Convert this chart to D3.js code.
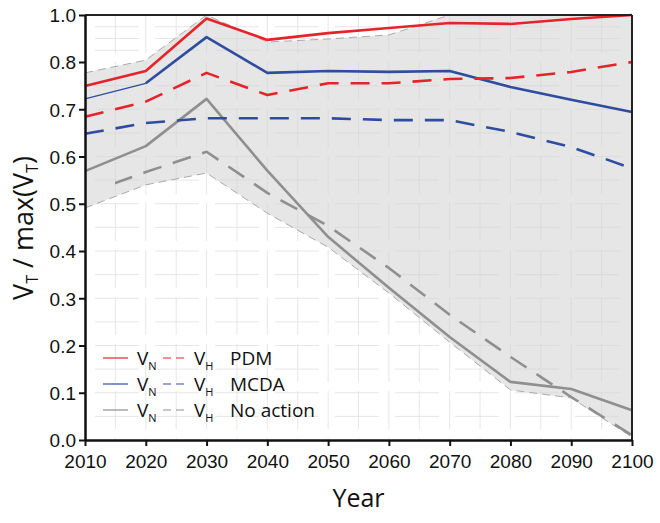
<!DOCTYPE html>
<html><head><meta charset="utf-8">
<script src="https://cdn.jsdelivr.net/npm/d3@7"></script>
<style>body{margin:0;background:#fff}svg{display:block}</style>
</head><body>
<svg id="c" width="660" height="523"></svg>
<script>
const years = [2010,2020,2030,2040,2050,2060,2070,2080,2090,2100];
const yTicks = [0.0,0.1,0.2,0.3,0.4,0.5,0.6,0.7,0.8,1.0];
const pdmVN   = [0.749,0.781,0.985,0.894,0.923,0.945,0.966,0.962,0.983,1.0];
const pdmVH   = [0.684,0.716,0.777,0.730,0.755,0.755,0.764,0.766,0.779,0.800];
const mcdaVN  = [0.722,0.755,0.906,0.777,0.781,0.779,0.781,0.747,0.720,0.694];
const mcdaVH  = [0.648,0.671,0.681,0.681,0.681,0.677,0.677,0.652,0.620,0.575];
const noVN    = [0.569,0.622,0.722,0.570,0.430,0.322,0.218,0.123,0.108,0.063];
const noVH    = [0.521,0.567,0.610,0.523,0.453,0.364,0.265,0.176,0.091,0.010];
const envUpper= [0.777,0.808,1.0,0.885,0.898,0.915,1.0,1.0,1.0,1.0];
const envLower= [0.491,0.540,0.565,0.480,0.408,0.311,0.207,0.106,0.089,0.006];
const legendRows = [
  {name:"PDM", color:"#e52329"},
  {name:"MCDA", color:"#2e4d9f"},
  {name:"No action", color:"#8f8f8f"}
];

const svg = d3.select("#c");
const L=85, R=632, T=15, B=440;
const x = d3.scaleLinear().domain([2010,2100]).range([L,R]);
const y = d3.scaleLinear().domain([0,0.8,1.0]).range([B,62,T]);

// envelope
const area = d3.area().x((d,i)=>x(years[i])).y0((d,i)=>y(envLower[i])).y1((d,i)=>y(envUpper[i]));
svg.append("path").datum(years).attr("d",area).attr("fill","#e6e6e6");

// faint grid
const g = svg.append("g").attr("stroke","#d4d4d4").attr("stroke-width",0.8).attr("opacity",0.7);
d3.range(2015,2100,5).forEach(v=>{
  g.append("line").attr("x1",x(v)).attr("x2",x(v)).attr("y1",T).attr("y2",B).attr("stroke-dasharray","38,9");
});
d3.range(0.05,0.8,0.05).concat([0.85,0.9,0.95]).forEach(v=>{
  g.append("line").attr("x1",L).attr("x2",R).attr("y1",y(v)).attr("y2",y(v)).attr("stroke-dasharray","44,16").attr("stroke-dashoffset",-10);
});

// envelope borders
const lineOf = arr => d3.line().x((d,i)=>x(years[i])).y((d,i)=>y(arr[i]))(years);
svg.append("path").attr("d",lineOf(envUpper)).attr("fill","none").attr("stroke","#aaaaaa").attr("stroke-width",1).attr("stroke-dasharray","8,5");
svg.append("path").attr("d",lineOf(envLower)).attr("fill","none").attr("stroke","#aaaaaa").attr("stroke-width",1).attr("stroke-dasharray","8,5");

// clip for the no-action VH line (its first dash starts after 2010)
svg.append("clipPath").attr("id","clipNo").append("rect")
  .attr("x",x(2010)+30).attr("y",0).attr("width",R-L).attr("height",B+10);

function draw(arr,color,dashed,offset,clip){
  const p = svg.append("path").attr("d",lineOf(arr)).attr("fill","none").attr("stroke",color)
    .attr("stroke-width",2.6).attr("stroke-linejoin","round");
  if(dashed) p.attr("stroke-dasharray","19,12").attr("stroke-dashoffset",offset||0);
  if(clip) p.attr("clip-path",`url(#${clip})`);
}
draw(noVH,legendRows[2].color,true,0,"clipNo");
draw(noVN,legendRows[2].color,false);
draw(mcdaVH,legendRows[1].color,true);
svg.append("path").attr("d",d3.line()([[x(years[0]),y(mcdaVN[0])],[x(years[1]),y(mcdaVN[1])]]))
  .attr("stroke",legendRows[1].color).attr("stroke-width",1.3).attr("fill","none");
svg.append("path").attr("d",d3.line().x((d,i)=>x(years[i+1])).y((d,i)=>y(mcdaVN[i+1]))(years.slice(1)))
  .attr("stroke",legendRows[1].color).attr("stroke-width",2.6).attr("fill","none").attr("stroke-linejoin","round");
draw(pdmVH,legendRows[0].color,true);
draw(pdmVN,legendRows[0].color,false);

// frame top/right
svg.append("line").attr("x1",L).attr("x2",R).attr("y1",T).attr("y2",T).attr("stroke","#222").attr("stroke-width",2);
svg.append("line").attr("x1",R).attr("x2",R).attr("y1",T).attr("y2",B).attr("stroke","#222").attr("stroke-width",2);

// axes
const yAxis = d3.axisLeft(y).tickValues(yTicks).tickFormat(d3.format(".1f")).tickSize(6).tickSizeOuter(0);
const ya = svg.append("g").attr("transform",`translate(${L},0)`).call(yAxis);
const xAxis = d3.axisBottom(x).tickValues(years).tickFormat(d3.format("d")).tickSize(6).tickSizeOuter(0);
const xa = svg.append("g").attr("transform",`translate(0,${B})`).call(xAxis);
[ya,xa].forEach(a=>{
  a.select(".domain").attr("stroke","#111").attr("stroke-width",2.5);
  a.selectAll(".tick line").attr("stroke","#111").attr("stroke-width",2);
  a.selectAll(".tick text").attr("fill","#111").attr("font-family","Liberation Sans, Arial, sans-serif").attr("font-size",19);
});
ya.selectAll(".tick text").attr("x",-9).attr("dy","0.36em");
xa.selectAll(".tick text").attr("y",15).attr("dy","0.71em");

// axis titles
svg.append("text").attr("x",(L+R)/2).attr("y",507).attr("text-anchor","middle")
  .attr("font-family","Open Sans, sans-serif").attr("font-size",25).attr("fill","#111").text("Year");
const yt = svg.append("text").attr("transform","translate(33,228) rotate(-90)").attr("text-anchor","middle")
  .attr("font-family","Open Sans, sans-serif").attr("font-size",27).attr("fill","#111");
yt.append("tspan").text("V");
yt.append("tspan").attr("font-size",16).attr("dy",5).text("T");
yt.append("tspan").attr("dy",-5).text(" / max(V");
yt.append("tspan").attr("font-size",16).attr("dy",5).text("T");
yt.append("tspan").attr("dy",-5).text(")");

// legend
const lg = svg.append("g").attr("font-family","Open Sans, sans-serif").attr("fill","#111");
legendRows.forEach((r,i)=>{
  const yy = 358 + i*26;
  lg.append("line").attr("x1",103).attr("x2",128).attr("y1",yy).attr("y2",yy).attr("stroke",r.color).attr("stroke-width",1.2);
  lg.append("line").attr("x1",163).attr("x2",186).attr("y1",yy).attr("y2",yy).attr("stroke",r.color).attr("stroke-width",1.2).attr("stroke-dasharray","8,5");
  const t1 = lg.append("text").attr("x",137).attr("y",yy+7).attr("font-size",19);
  t1.append("tspan").text("V"); t1.append("tspan").attr("font-size",11).attr("dy",5).text("N");
  const t2 = lg.append("text").attr("x",194).attr("y",yy+7).attr("font-size",19);
  t2.append("tspan").text("V"); t2.append("tspan").attr("font-size",11).attr("dy",5).text("H");
  lg.append("text").attr("x",230).attr("y",yy+7).attr("font-size",19).text(r.name);
});
</script>
</body></html>
